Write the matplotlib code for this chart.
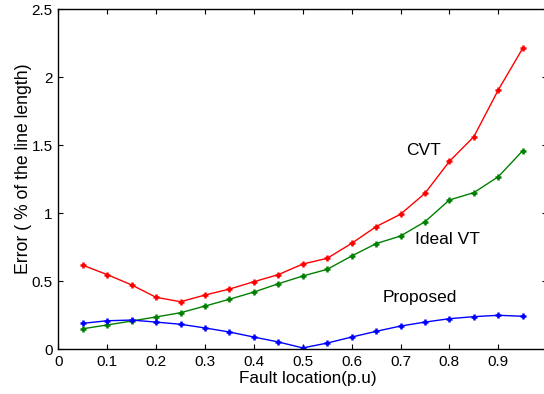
import matplotlib
matplotlib.use("Agg")
import matplotlib.pyplot as plt

fault_loc = [0.05, 0.10, 0.15, 0.20, 0.25, 0.30, 0.35, 0.40, 0.45, 0.50,
             0.55, 0.60, 0.65, 0.70, 0.75, 0.80, 0.85, 0.90, 0.95]
cvt = [0.618, 0.549, 0.473, 0.382, 0.350, 0.399, 0.443, 0.497, 0.549, 0.627,
       0.669, 0.779, 0.902, 0.993, 1.147, 1.382, 1.563, 1.907, 2.213]
ideal_vt = [0.151, 0.179, 0.208, 0.238, 0.269, 0.318, 0.368, 0.421, 0.482, 0.539,
            0.588, 0.686, 0.777, 0.833, 0.938, 1.098, 1.152, 1.269, 1.460]
proposed = [0.191, 0.210, 0.215, 0.200, 0.184, 0.157, 0.127, 0.090, 0.054, 0.010,
            0.046, 0.090, 0.132, 0.171, 0.200, 0.225, 0.240, 0.250, 0.243]

xticks = [0, 0.1, 0.2, 0.3, 0.4, 0.5, 0.6, 0.7, 0.8, 0.9]
xticklabels = ["0", "0.1", "0.2", "0.3", "0.4", "0.5", "0.6", "0.7", "0.8", "0.9"]
yticks = [0, 0.5, 1, 1.5, 2, 2.5]
yticklabels = ["0", "0.5", "1", "1.5", "2", "2.5"]

plt.rcParams['font.family'] = ['Liberation Sans', 'DejaVu Sans']

fig = plt.figure(figsize=(5.44, 3.94), dpi=100)
ax = fig.add_axes([58.4/544, (394-349.3)/394, 488.75/544, 340/394])

mk = dict(marker='+', markersize=5, markeredgewidth=1.8, linewidth=1.0)
ax.plot(fault_loc, cvt, color=(1, 0, 0), **mk)
ax.plot(fault_loc, ideal_vt, color=(0, 0.5, 0), **mk)
ax.plot(fault_loc, proposed, color=(0, 0, 1), **mk)

ax.set_xlim(0, 1)
ax.set_ylim(0, 2.5)
ax.set_xticks(xticks)
ax.set_xticklabels(xticklabels)
ax.set_yticks(yticks)
ax.set_yticklabels(yticklabels)
ax.tick_params(direction='in', length=3.6, width=0.8, labelsize=11,
               top=True, right=True, pad=4)
for s in ax.spines.values():
    s.set_linewidth(1.0)

ax.set_xlabel("Fault location(p.u)", fontsize=12.3)
ax.set_ylabel("Error ( % of the line length)", fontsize=12.7)
ax.xaxis.set_label_coords(0.511, -0.064)
ax.yaxis.set_label_coords(-0.055, 0.53)

ax.text(0.746, 1.46, "CVT", fontsize=12.5, ha='center', va='center')
ax.text(0.797, 0.809, "Ideal VT", fontsize=12.5, ha='center', va='center')
ax.text(0.74, 0.38, "Proposed", fontsize=12.5, ha='center', va='center')

fig.savefig("out.png", dpi=100)
